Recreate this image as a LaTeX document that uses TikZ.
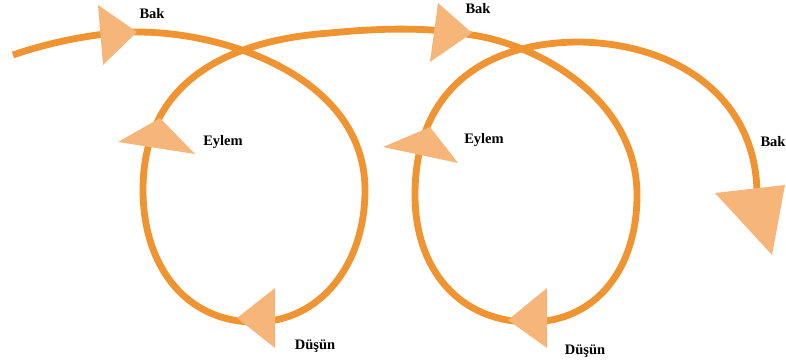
\documentclass[tikz,border=0pt]{standalone}
\usepackage{fontspec}
\setmainfont{Liberation Serif}
\definecolor{lineor}{RGB}{240,148,50}
\definecolor{heador}{RGB}{246,182,122}
\tikzset{
  loopline/.style={draw=lineor, line width=6.8pt},
  headtri/.style={fill=heador, draw=none},
  lbl/.style={font=\bfseries\fontsize{14.5}{15}\selectfont, inner sep=0pt}
}
\begin{document}
\begin{tikzpicture}[x=1pt,y=-1pt]
\useasboundingbox (0,0) rectangle (786,361);
% named coordinates along the path
\coordinate (s) at (13,55);
\coordinate (b1) at (137,32);
\coordinate (r1) at (365,190);
\coordinate (d1) at (255,322);
\coordinate (l1) at (143,190);
\coordinate (t1) at (330,33);
\coordinate (b2) at (472,35);
\coordinate (r2) at (637,195);
\coordinate (d2) at (530,322);
\coordinate (l2) at (415,195);
\coordinate (t2) at (580,42);
\coordinate (e) at (757,195);
% the continuous looping path
\draw[loopline] (s) .. controls (50,42) and (100,32) .. (b1)
  .. controls (230,32) and (365,80) .. (r1)
  .. controls (365,265) and (320,322) .. (d1)
  .. controls (185,322) and (143,265) .. (l1)
  .. controls (143,80) and (230,40) .. (t1)
  .. controls (380,28) and (430,27) .. (b2)
  .. controls (540,45) and (637,100) .. (r2)
  .. controls (637,270) and (595,322) .. (d2)
  .. controls (460,322) and (415,270) .. (l2)
  .. controls (415,85) and (490,42) .. (t2)
  .. controls (680,44) and (757,100) .. (e);
% arrowheads
\fill[headtri] (98,5) -- (137,32) -- (103,65) -- cycle;
\fill[headtri] (118,142) -- (160,118) -- (195,154) -- cycle;
\fill[headtri] (237,318) -- (275,288) -- (275,348) -- cycle;
\fill[headtri] (438,3) -- (472,33) -- (430,62) -- cycle;
\fill[headtri] (383,147) -- (430,127) -- (458,163) -- cycle;
\fill[headtri] (508,320) -- (547,288) -- (547,348) -- cycle;
\fill[headtri] (715,193) -- (785,185) -- (772,255) -- cycle;
% labels
\node[lbl] (bak1) at (152,14) {Bak};
\node[lbl] (bak2) at (478,9) {Bak};
\node[lbl] (bak3) at (773,142) {Bak};
\node[lbl] (eylem1) at (223,142) {Eylem};
\node[lbl] (eylem2) at (484,140) {Eylem};
\node[lbl] (dusun1) at (315,346) {Düşün};
\node[lbl] (dusun2) at (585,351) {Düşün};
\end{tikzpicture}
\end{document}
